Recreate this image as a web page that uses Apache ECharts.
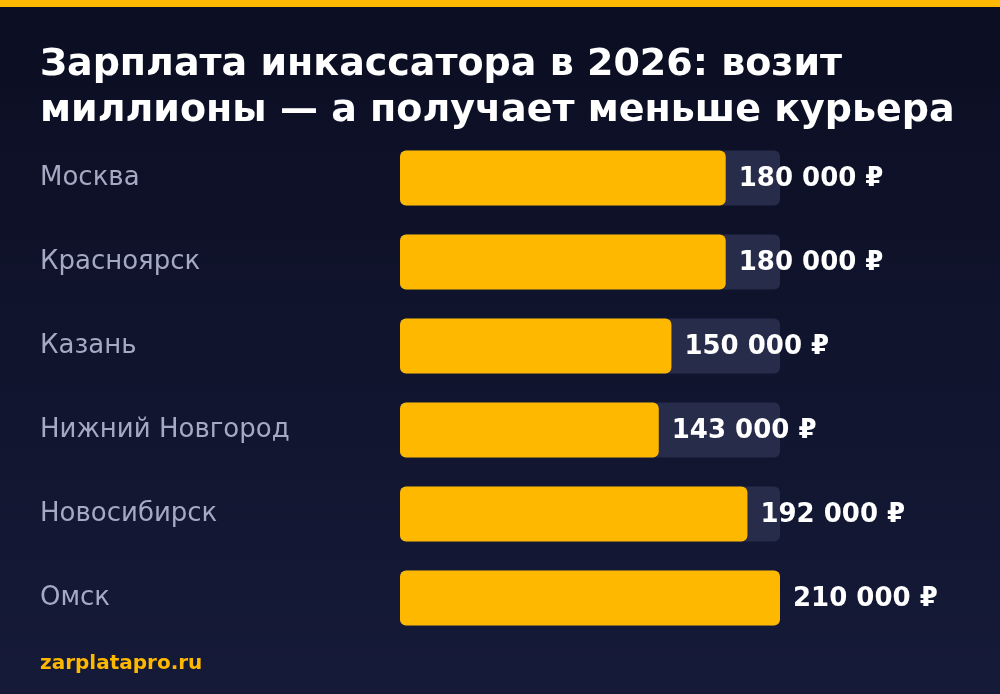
<!DOCTYPE html>
<html>
<head>
<meta charset="utf-8">
<script src="https://cdn.jsdelivr.net/npm/echarts@6/dist/echarts.min.js"></script>
<style>
  html, body { margin: 0; padding: 0; background: #0c0f24; }
  #chart { width: 1000px; height: 694px; }
</style>
</head>
<body>
<div id="chart"></div>
<script>
const cities = ['Москва', 'Красноярск', 'Казань', 'Нижний Новгород', 'Новосибирск', 'Омск'];
const salaries = [180000, 180000, 150000, 143000, 192000, 210000];
const maxSalary = 210000;

const titleText = 'Зарплата инкассатора в 2026: возит\nмиллионы — а получает меньше курьера';
const sourceText = 'zarplatapro.ru';

const FONT = 'DejaVu Sans';

function fmt(v) {
  return String(v).replace(/\B(?=(\d{3})+(?!\d))/g, ' ') + ' ₽';
}

const chart = echarts.init(document.getElementById('chart'));
chart.setOption({
  backgroundColor: {
    type: 'linear', x: 0, y: 0, x2: 0, y2: 1,
    colorStops: [
      { offset: 0, color: '#0b0e22' },
      { offset: 1, color: '#151a38' }
    ]
  },
  textStyle: { fontFamily: FONT },
  title: {
    text: titleText,
    left: 40,
    top: 42,
    padding: 0,
    textStyle: {
      color: '#ffffff',
      fontSize: 38,
      fontWeight: 'bold',
      lineHeight: 46,
      fontFamily: FONT
    }
  },
  graphic: [
    { type: 'rect', left: 0, top: 0, shape: { width: 1000, height: 7 }, style: { fill: '#ffb800' } },
    {
      type: 'text', left: 40, top: 654,
      style: { text: sourceText, fill: '#ffb800', fontSize: 20, fontWeight: 'bold', fontFamily: FONT }
    }
  ],
  grid: { left: 400, top: 136, width: 380, height: 504 },
  xAxis: { type: 'value', min: 0, max: maxSalary, show: false },
  yAxis: {
    type: 'category',
    data: cities,
    inverse: true,
    axisLine: { show: false },
    axisTick: { show: false },
    axisLabel: {
      align: 'left',
      margin: 360,
      padding: [2, 0, 0, 0],
      color: '#a6a9c4',
      fontSize: 26,
      fontFamily: FONT
    }
  },
  series: [{
    type: 'bar',
    data: salaries,
    barWidth: 55,
    showBackground: true,
    backgroundStyle: { color: '#272c4a', borderRadius: 6 },
    itemStyle: { color: '#ffb800', borderRadius: 6 },
    label: {
      show: true,
      position: 'right',
      distance: 13,
      offset: [0, 1],
      color: '#ffffff',
      fontSize: 26,
      fontWeight: 'bold',
      fontFamily: FONT,
      formatter: p => fmt(p.value)
    },
    animation: false
  }]
});
</script>
</body>
</html>
